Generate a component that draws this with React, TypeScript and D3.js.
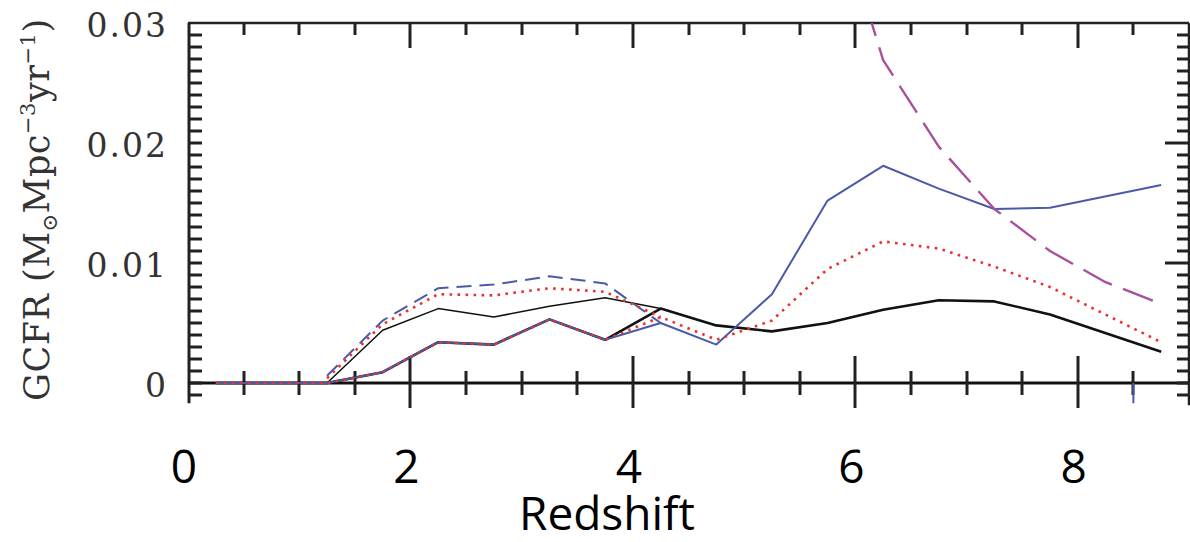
import React from 'react';
import * as d3 from 'd3';

// ---- data (redshift bins, GCFR in Msun Mpc^-3 yr^-1) ----
const zLower = [0.25, 0.75, 1.25, 1.75, 2.25, 2.75, 3.25, 3.75, 4.25, 4.75, 5.25, 5.75, 6.25, 6.75, 7.25, 7.75, 8.75];
const blackThick = [0, 0, 0, 0.0009, 0.0034, 0.0032, 0.0053, 0.0036, 0.0062, 0.0048, 0.0043, 0.0050, 0.0061, 0.0069, 0.0068, 0.0057, 0.0026];
const blueSolid = [0, 0, 0, 0.0009, 0.0034, 0.0032, 0.0053, 0.0036, 0.0050, 0.0032, 0.0074, 0.0152, 0.0181, 0.0162, 0.0145, 0.0146, 0.0165];
const redLower = [0, 0, 0, 0.0009, 0.0034, 0.0032, 0.0053, 0.0036, 0.0055, 0.0036, 0.0052, 0.0095, 0.0118, 0.0112, 0.0097, 0.0080, 0.0034];

const zUpper = [1.25, 1.75, 2.25, 2.75, 3.25, 3.75, 4.25];
const blackThin = [0, 0.0044, 0.0062, 0.0055, 0.0064, 0.0071, 0.0062];
const blueDashUpper = [0.0006, 0.0052, 0.0079, 0.0082, 0.0089, 0.0083, 0.0050];
const redDotUpper = [0.0004, 0.0049, 0.0074, 0.0073, 0.0079, 0.0076, 0.0055];

const zPurple = [5.75, 6.25, 6.75, 7.25, 7.75, 8.25, 8.75];
const purpleDash = [0.042, 0.0269, 0.0197, 0.0145, 0.0110, 0.0084, 0.0066];

const zDrop = [8.5, 8.5];
const blueDrop = [0, -0.003];

const xTickLabels = ['0', '2', '4', '6', '8'];
const xTickValues = [0, 2, 4, 6, 8];
const yTickLabels = ['0', '0.01', '0.02', '0.03'];
const yTickValues = [0, 0.01, 0.02, 0.03];

export default function App() {
  const W = 1190, H = 542;
  const x = d3.scaleLinear().domain([0, 9]).range([188, 1189]);
  const y = d3.scaleLinear().domain([0, 0.03]).range([383, 23]);
  const yBottom = -0.00168;

  const line = d3.line<[number, number]>().x(d => x(d[0])).y(d => y(d[1]));
  const mk = (zs: number[], vs: number[]) => line(zs.map((z, i) => [z, vs[i]] as [number, number])) || '';

  const xMinor = d3.range(1, 18).map(k => k * 0.5);
  const yMinor = d3.range(-1, 30).map(k => k * 0.001);
  const isMajorX = (v: number) => Math.abs(v % 2) < 1e-6;
  const isMajorY = (v: number) => v > 0 && Math.abs(Math.round(v * 100) - v * 100) < 1e-6;

  // tick paths
  const p = d3.path();
  yMinor.forEach(v => {
    const yy = Math.round(y(v));
    p.moveTo(189, yy); p.lineTo(202, yy);
    const len = isMajorY(v) ? 24 : 12;
    p.moveTo(x(9) - len, yy); p.lineTo(x(9), yy);
  });
  xMinor.forEach(v => {
    const xx = Math.round(x(v));
    const major = isMajorX(v);
    p.moveTo(xx, y(0.03)); p.lineTo(xx, y(0.03) + (major ? 25 : 12));
    p.moveTo(xx, y(0) - (major ? 27 : 12)); p.lineTo(xx, y(0) + (major ? 25 : 12));
  });
  const tickPath = p.toString();

  const serif = '"DejaVu Serif", serif';
  const sans = '"Open Sans", sans-serif';

  return (
    <svg width={W} height={H} style={{ position: 'absolute', left: 0, top: 0, background: '#fff' }}>
      <defs>
        <clipPath id="plotclip">
          <rect x={x(0) + 1} y={y(0.03)} width={x(9) - x(0) - 1} height={y(yBottom) - y(0.03)} />
        </clipPath>
      </defs>

      {/* frame */}
      <path d={`M189,${y(yBottom)}V${y(0.03)}`} stroke="#222" strokeWidth={3} fill="none" />
      <path d={`M${x(0)},${y(0.03)}H${x(9)}`} stroke="#222" strokeWidth={2.5} fill="none" />
      <path d={`M${x(9)},${y(0.03)}V${y(yBottom) + 2}`} stroke="#222" strokeWidth={2.5} fill="none" />
      <path d={`M${x(0)},${y(0)}H${x(9)}`} stroke="#111" strokeWidth={3} fill="none" />
      <path d={tickPath} stroke="#222" strokeWidth={3} fill="none" />

      {/* data */}
      <g clipPath="url(#plotclip)" fill="none" strokeLinejoin="round">
        <path d={mk(zLower, blackThick)} stroke="#111" strokeWidth={2.6} />
        <path d={mk(zUpper, blackThin)} stroke="#111" strokeWidth={1.5} />
        <path d={mk(zLower, blueSolid)} stroke="#4a5aa8" strokeWidth={2} />
        <path d={mk(zUpper, blueDashUpper)} stroke="#4a5aa8" strokeWidth={2} strokeDasharray="15 8" />
        <path d={mk(zLower, redLower)} stroke="#e8322e" strokeWidth={2.6} strokeDasharray="2.6 5.4" />
        <path d={mk(zUpper, redDotUpper)} stroke="#e8322e" strokeWidth={2.6} strokeDasharray="2.6 5.4" />
        <path d={mk(zPurple, purpleDash)} stroke="#a8509e" strokeWidth={2.4} strokeDasharray="32 12" />
        <path d={mk(zDrop, blueDrop)} stroke="#4a5aa8" strokeWidth={2} />
      </g>

      {/* y tick labels */}
      {yTickValues.map((v, i) => (
        <text key={'ylab' + i} x={168} y={y(v) + 2} textAnchor="end" dominantBaseline="central"
          fontFamily={serif} fontSize={33} letterSpacing={2} fill="#333">{yTickLabels[i]}</text>
      ))}

      {/* y axis title */}
      <text transform={`translate(49,401) rotate(-90)`} fontFamily={serif} fontSize={35} fill="#333" letterSpacing={0.5}>
        GCFR  (M<tspan fontSize={21} dy={8}>⊙</tspan><tspan dy={-8}>Mpc</tspan><tspan fontSize={21} dy={-14}>−3</tspan><tspan dy={14}>yr</tspan><tspan fontSize={21} dy={-14}>−1</tspan><tspan dy={14}>)</tspan>
      </text>

      {/* x tick labels */}
      {xTickValues.map((v, i) => (
        <text key={'xlab' + i} x={x(v) - 4} y={483} textAnchor="middle" fontFamily={sans} fontSize={46} fill="#000">{xTickLabels[i]}</text>
      ))}
      <text x={607} y={530} textAnchor="middle" fontFamily={sans} fontSize={46} fill="#000">Redshift</text>
    </svg>
  );
}
